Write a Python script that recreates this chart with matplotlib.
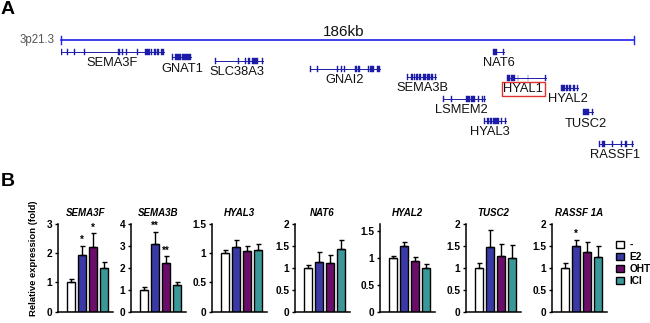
import matplotlib
matplotlib.use("Agg")
import matplotlib.pyplot as plt
from matplotlib.patches import Rectangle, Patch

plt.rcParams['font.family'] = ['Liberation Sans', 'DejaVu Sans']

# ---------------- Panel A data (positions in kb, track = vertical pixel row) ----------------
region_label = "3p21.3"
region_size_kb = 186
region_text = "186kb"

gene_names = ["SEMA3F", "GNAT1", "SLC38A3", "GNAI2", "SEMA3B", "LSMEM2",
              "HYAL3", "NAT6", "HYAL1", "HYAL2", "TUSC2", "RASSF1"]
gene_start = [0.0, 36.0, 50.0, 80.8, 112.3, 124.0, 137.3, 140.3, 144.8, 162.3, 169.5, 174.7]
gene_end = [33.4, 42.2, 65.6, 103.5, 121.7, 137.6, 144.4, 143.8, 157.4, 167.8, 172.7, 185.7]
gene_track = [52, 57, 61, 69, 77, 99, 121, 52, 78, 88, 112, 144]
gene_label_y = [63, 69, 72, 80, 88, 110, 132, 63, 89, 99, 124, 155]
gene_label_x = [16.5, 39.3, 57.0, 92.2, 117.2, 130.0, 139.3, 142.2, 150.1, 164.6, 170.4, 179.9]
gene_exons = [
    [(0.0, 0.3), (2.0, 0.3), (4.2, 0.4), (7.5, 0.2), (18.5, 0.5), (19.7, 0.5), (21.0, 0.4),
     (24.6, 0.3), (27.2, 1.6), (29.2, 0.5), (30.3, 0.5), (31.3, 0.5), (32.3, 1.1)],
    [(36.0, 0.3), (37.0, 2.0), (39.3, 2.9)],
    [(50.0, 0.3), (57.5, 0.3), (59.6, 0.6), (60.6, 0.6), (62.0, 2.0), (65.2, 0.4)],
    [(80.8, 0.3), (83.0, 0.3), (89.5, 0.5), (91.0, 0.3), (92.0, 0.3), (95.5, 0.5), (96.4, 0.5),
     (99.5, 0.5), (100.3, 0.5), (101.1, 0.4), (102.5, 1.0)],
    [(112.3, 0.3), (113.5, 0.6), (114.5, 0.5), (115.3, 0.5), (116.2, 0.5),
     (117.6, 1.0), (118.9, 0.8), (120.0, 0.9), (121.4, 0.3)],
    [(124.0, 0.3), (126.5, 0.3), (131.5, 1.2), (133.0, 1.5), (135.4, 0.4), (136.6, 0.3), (137.3, 0.3)],
    [(137.3, 0.3), (138.3, 0.6), (139.3, 0.6), (140.3, 1.8), (142.8, 0.4), (144.1, 0.3)],
    [(140.3, 1.3), (143.5, 0.3)],
    [(144.8, 1.0), (146.0, 1.3), (148.2, 0.3), (151.5, 0.2), (157.1, 0.3)],
    [(162.3, 0.5), (163.1, 0.6), (164.0, 0.6), (164.9, 0.5), (166.3, 0.4), (167.5, 0.3)],
    [(169.6, 1.8), (172.4, 0.3)],
    [(174.7, 0.4), (175.5, 1.0), (178.8, 0.3), (181.7, 0.5), (183.2, 0.5), (185.4, 0.3)],
]
boxed_gene = "HYAL1"

# ---------------- Panel B data ----------------
groups = ["-", "E2", "OHT", "ICI"]
bar_colors = ["#ffffff", "#3a3aa6", "#6a0e6a", "#3b9898"]
panel_genes = ["SEMA3F", "SEMA3B", "HYAL3", "NAT6", "HYAL2", "TUSC2", "RASSF 1A"]
means = [
    [1.00, 1.93, 2.21, 1.48],
    [1.00, 3.10, 2.22, 1.22],
    [1.00, 1.10, 1.03, 1.06],
    [1.00, 1.13, 1.10, 1.44],
    [1.00, 1.23, 0.95, 0.82],
    [1.00, 1.47, 1.26, 1.23],
    [1.00, 1.49, 1.35, 1.25],
]
errs = [
    [0.12, 0.33, 0.47, 0.23],
    [0.11, 0.55, 0.30, 0.13],
    [0.05, 0.13, 0.09, 0.09],
    [0.07, 0.22, 0.20, 0.19],
    [0.04, 0.08, 0.07, 0.07],
    [0.11, 0.39, 0.29, 0.30],
    [0.11, 0.14, 0.23, 0.24],
]
stars = [
    ["", "*", "*", ""],
    ["", "**", "**", ""],
    ["", "", "", ""],
    ["", "", "", ""],
    ["", "", "", ""],
    ["", "", "", ""],
    ["", "*", "", ""],
]
ylims = [3.0, 4.0, 1.5, 2.0, 1.64, 2.0, 2.0]
yticks = [
    [0, 1, 2, 3],
    [0, 1, 2, 3, 4],
    [0, 0.5, 1, 1.5],
    [0, 0.5, 1, 1.5, 2],
    [0, 0.5, 1, 1.5],
    [0, 0.5, 1, 1.5, 2],
    [0, 0.5, 1, 1.5, 2],
]
ylabel = "Relative expression (fold)"

# ---------------- Figure ----------------
W, H = 650, 323
fig = plt.figure(figsize=(W / 100, H / 100), dpi=100)

def fx(px):
    return px / W

def fy(px):
    return 1 - px / H

# Panel A axes: x in kb (61..634 px), y in pixel rows (0..170 from top)
axA = fig.add_axes([fx(61), fy(170), fx(634) - fx(61), 170 / H])
axA.set_xlim(0, region_size_kb)
axA.set_ylim(170, 0)
axA.axis("off")

scale_col = "#1f1ff0"
gene_col = "#1c1ca8"
axA.plot([0, region_size_kb], [40, 40], color=scale_col, lw=1.2, clip_on=False)
axA.plot([0, 0], [36, 44], color=scale_col, lw=1.0, clip_on=False)
axA.plot([region_size_kb, region_size_kb], [36, 44], color=scale_col, lw=1.0, clip_on=False)
axA.text(85.0, 36, region_text, ha="left", va="baseline", fontsize=11, color="#111111")
axA.text(-2.0, 40, region_label, ha="right", va="center", fontsize=8.3, color="#555555",
         clip_on=False)

for name, s, e, t, lx, ly, exons in zip(gene_names, gene_start, gene_end, gene_track,
                                         gene_label_x, gene_label_y, gene_exons):
    axA.plot([s, e], [t, t], color=gene_col, lw=0.7)
    for (ex, w) in exons:
        axA.add_patch(Rectangle((ex, t - 3.3), w, 6.6, facecolor=gene_col,
                                edgecolor=gene_col, lw=0.3))
    kw = {}
    if name == boxed_gene:
        kw["bbox"] = dict(boxstyle="square,pad=0.1", facecolor="none",
                          edgecolor="#e03030", lw=1.0)
    axA.text(lx, ly, name, ha="center", va="center", fontsize=9.3, color="#111111", **kw)

fig.text(fx(1), fy(10), "A", fontsize=14, fontweight="bold", va="center", ha="left")
fig.text(fx(1), fy(182), "B", fontsize=14, fontweight="bold", va="center", ha="left")

# Panel B axes
lefts = [58, 131, 212, 295, 380, 466, 552]
ax_w = 55
ax_top, ax_bot = 224, 311.5
xs = list(range(len(groups)))
for i, gname in enumerate(panel_genes):
    ax = fig.add_axes([fx(lefts[i]), fy(ax_bot), ax_w / W, (ax_bot - ax_top) / H])
    ax.bar(xs, means[i], width=0.72, color=bar_colors, edgecolor="black", linewidth=1.0,
           zorder=2)
    ax.errorbar(xs, means[i], yerr=[[0] * 4, errs[i]], fmt="none", ecolor="black",
                elinewidth=1.0, capsize=1.8, capthick=1.0, zorder=3)
    for j, st in enumerate(stars[i]):
        if st:
            ax.text(xs[j], means[i][j] + errs[i][j] + 0.01 * ylims[i], st, ha="center",
                    va="bottom", fontsize=7, fontweight="bold", clip_on=False)
    ax.set_xlim(-1.15, 3.8)
    ax.set_ylim(0, ylims[i])
    ax.set_yticks(yticks[i])
    ax.set_yticklabels([("%g" % v) for v in yticks[i]], fontsize=7.3, fontweight="bold")
    ax.set_xticks([])
    for sp in ["top", "right"]:
        ax.spines[sp].set_visible(False)
    for sp in ["left", "bottom"]:
        ax.spines[sp].set_linewidth(1.1)
    ax.tick_params(axis="y", length=2.5, width=1.0, pad=1.5)
    ax.set_title(gname, fontsize=7, fontweight="bold", style="italic", pad=5.5)

fig.text(fx(33), fy(258), ylabel, rotation=90, ha="center", va="center",
         fontsize=6.8, fontweight="bold")

handles = [Patch(facecolor=c, edgecolor="black", linewidth=1.0) for c in bar_colors]
fig.legend(handles, groups, loc="upper left", bbox_to_anchor=(fx(612), fy(236)),
           frameon=False, prop={"size": 7.3, "weight": "bold"}, handlelength=0.8,
           handleheight=0.8, handletextpad=0.5, labelspacing=0.2, borderaxespad=0)

fig.savefig("out.png", dpi=100)
